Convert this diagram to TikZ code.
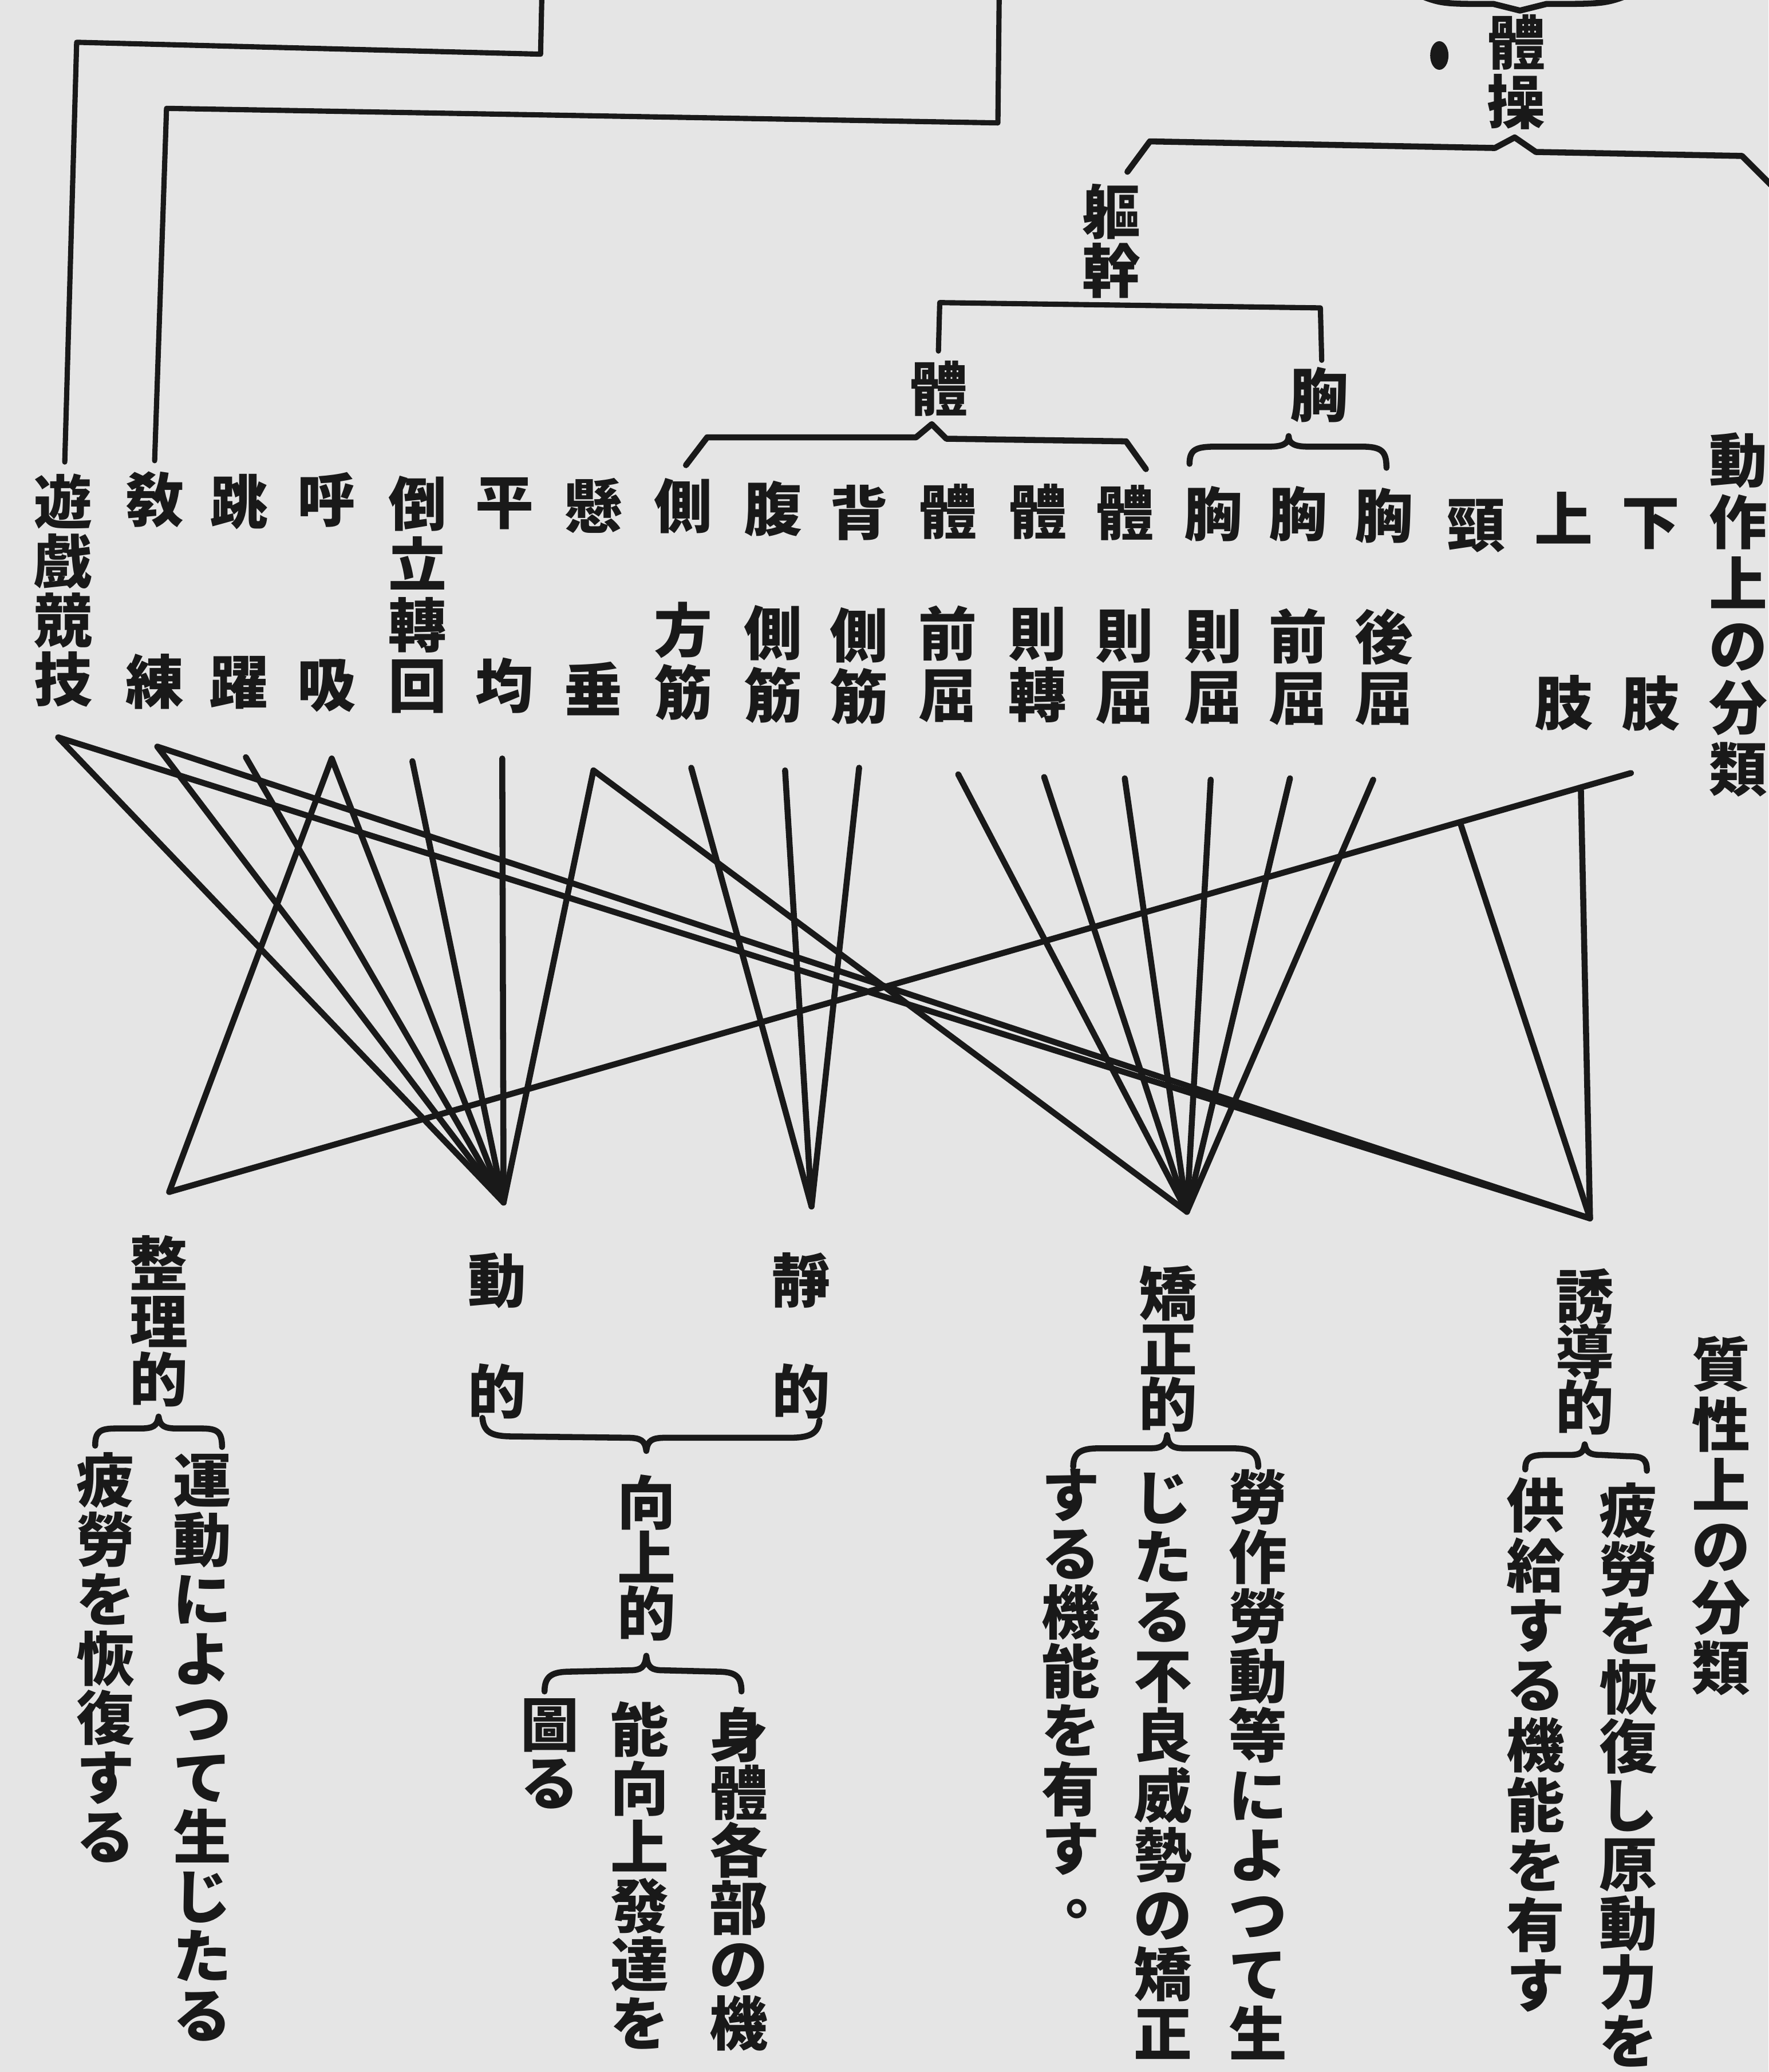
\documentclass[tikz,border=0pt]{standalone}
\usepackage{fontspec}
\newfontfamily\cjk{Noto Sans CJK JP}
\usetikzlibrary{calc}
\definecolor{paper}{gray}{0.9}
\definecolor{ink}{gray}{0.10}
\tikzset{
  ch/.style={font={\fontsize{29pt}{29pt}\selectfont\cjk\bfseries}, text=ink, inner sep=0pt,
    text height=25.5pt, text depth=3.5pt, anchor=center},
  stop/.style={font={\fontsize{29pt}{29pt}\selectfont\cjk\bfseries}, text=ink, inner sep=0pt,
    text height=7pt, text depth=0pt, anchor=base west},
  conn/.style={draw=ink, line width=3pt, line cap=round, line join=round},
  tree/.style={draw=ink, line width=2.6pt, line cap=round, line join=round},
  brace/.style={draw=ink, line width=3pt, line cap=round, line join=round},
}
\newcommand\vcol[5]{\foreach \ch [count=\k] in {#5}{\node[ch] (#1-\k) at (#2,{#3+(\k-1)*#4}) {\ch};}}
\begin{document}
\begin{tikzpicture}[x=0.0231cm, y=-0.0231cm]
\fill[paper] (0,0) rectangle (1338,1568);
\useasboundingbox (0,0) rectangle (1338,1568);

% ---------- top labels ----------
\vcol{taiso}{1147}{32}{45}{體,操}
\vcol{kukan}{841}{160}{45}{軀,幹}
\node[ch] (tai) at (710,294) {體};
\node[ch] (mune) at (998,299) {胸};
\fill[ink] (1089,42) ellipse [x radius=0.16cm, y radius=0.25cm];

% ---------- columns (動作上の分類) ----------
\vcol{c1}{48}{380}{44.7}{遊,戲,競,技}
\vcol{c2}{117}{378}{46}{敎,,,練}
\vcol{c3}{181}{380}{45.3}{跳,,,躍}
\vcol{c4}{247}{378}{46.7}{呼,,,吸}
\vcol{c5}{316}{381}{46}{倒,立,轉,回}
\vcol{c6}{382}{380}{46.3}{平,,,均}
\vcol{c7}{449}{383}{46.3}{懸,,,垂}
\vcol{c8}{517}{383}{47}{側,,方,筋}
\vcol{c9}{585}{385}{47}{腹,,側,筋}
\vcol{c10}{650}{388}{46.3}{背,,側,筋}
\vcol{c11}{717}{387}{46.3}{體,,前,屈}
\vcol{c12}{785}{387}{46.3}{體,,則,轉}
\vcol{c13}{851}{388}{46.3}{體,,則,屈}
\vcol{c14}{918}{389}{46}{胸,,則,屈}
\vcol{c15}{982}{389}{46.3}{胸,,前,屈}
\vcol{c16}{1047}{390}{46}{胸,,後,屈}
\vcol{c17}{1117}{397}{46}{頸}
\vcol{c18}{1183}{393}{46.3}{上,,,肢}
\vcol{c19}{1249}{395}{45.7}{下,,,肢}
\vcol{c20}{1315}{348}{46.8}{動,作,上,の,分,類}

% ---------- bottom labels ----------
\vcol{seiri}{120}{956}{44}{整,理,的}
\vcol{dA}{153}{1120}{45}{運,動,に,よ,つ,て,生,じ,た,る}
\vcol{dB}{80}{1120}{45}{疲,勞,を,恢,復,す,る}
\vcol{dou}{376}{969}{84}{動,的}
\vcol{sei}{606}{969}{84}{靜,的}
\vcol{kojo}{489}{1137}{42}{向,上,的}
\vcol{dC}{559}{1313}{43.6}{身,體,各,部,の,機}
\vcol{dD}{484}{1309}{44.4}{能,向,上,發,達,を}
\vcol{dE}{416}{1305}{44}{圖,る}
\vcol{kyosei}{884}{979}{42}{矯,正,的}
\vcol{dF}{952}{1133}{45.1}{勞,作,勞,動,等,に,よ,つ,て,生}
\vcol{dG}{880}{1133}{45.1}{じ,た,る,不,良,威,勢,の,矯,正}
\vcol{dH}{810}{1131}{44.6}{す,る,機,能,を,有,す}
\node[stop] (dH-8) at (806,1448) {。};
\vcol{yudo}{1199}{981}{42}{誘,導,的}
\vcol{dI}{1232}{1143}{44.6}{疲,勞,を,恢,復,し,原,動,力,を}
\vcol{dJ}{1162}{1139}{45.4}{供,給,す,る,機,能,を,有,す}
\vcol{shitsu}{1302}{1032}{46}{質,性,上,の,分,類}

% ---------- tree lines at top ----------
\draw[tree] (410,-5) -- (409,41) -- (58,32) -- ($(c1-1.north)+(1,-8)$);
\draw[tree] (756,-5) -- (755,93) -- (126,82) -- ($(c2-1.north)+(0,-7)$);
\draw[brace] (1068,-6) .. controls (1090,3) .. (1130,3) -- (1150,8) -- (1170,3) .. controls (1215,3) .. (1238,-6);
\draw[brace] (853,130) -- (870,107) -- (1131,112) -- (1146,104) -- (1162,115) -- (1318,118) -- (1345,145);
\draw[tree] ($(tai.north)+(0,-6)$) -- (711,229) -- (999,233) -- ($(mune.north)+(2,-4)$);
\draw[brace] (519,352) -- (535,331) -- (693,331) -- (705,321) -- (716,332) -- (852,334) -- (867,355);
\draw[brace] (900,351) .. controls (900,340) and (905,338) .. (920,338) -- (960,338)
  .. controls (970,338) and (975,336) .. (975,330) .. controls (975,336) and (980,338) .. (990,338)
  -- (1030,338) .. controls (1045,338) and (1049,341) .. (1049,354);

% ---------- hubs and end points ----------
\coordinate (P1) at (44,558);
\coordinate (P2) at (119,565);
\coordinate (P3) at (186,573);
\coordinate (P4) at (251,574);
\coordinate (P5) at (312,576);
\coordinate (P6) at (380,574);
\coordinate (P7) at (449,583);
\coordinate (P8) at (523,581);
\coordinate (P9) at (594,583);
\coordinate (P10) at (650,581);
\coordinate (P11) at (725,586);
\coordinate (P12) at (790,588);
\coordinate (P13) at (851,589);
\coordinate (P14) at (916,590);
\coordinate (P15) at (976,589);
\coordinate (P16) at (1039,590);
\coordinate (P19) at (1234,585);
\coordinate (hA) at (128,902);
\coordinate (hB) at (381,910);
\coordinate (hC) at (614,913);
\coordinate (hD) at (898,917);
\coordinate (hE) at (1203,922);
\coordinate (P17) at ($(hA)!0.883!(P19)$);
\coordinate (P18) at ($(hA)!0.9657!(P19)$);

\draw[conn] (hB) -- (P1) -- (hE);
\draw[conn] (hB) -- (P2) -- (hE);
\draw[conn] (P3) -- (hB);
\draw[conn] (hA) -- (P4) -- (hB);
\draw[conn] (P5) -- (hB);
\draw[conn] (P6) -- (hB);
\draw[conn] (hB) -- (P7) -- (hD);
\draw[conn] (P8) -- (hC);
\draw[conn] (P9) -- (hC);
\draw[conn] (P10) -- (hC);
\foreach \p in {P11,P12,P13,P14,P15,P16}{\draw[conn] (\p) -- (hD);}
\draw[conn] (hA) -- (P19);
\draw[conn] (P17) -- (hE);
\draw[conn] (P18) -- (hE);

% ---------- bottom braces ----------
\draw[brace] (72,1094) .. controls (72,1083) and (76,1081) .. (88,1081) -- (106,1081)
  .. controls (116,1081) and (119,1079) .. (120,1072) .. controls (121,1079) and (124,1081) .. (134,1081)
  -- (152,1081) .. controls (164,1081) and (168,1083) .. (168,1095);
\draw[brace] (365,1073) .. controls (366,1084) and (372,1087) .. (388,1087) -- (474,1088)
  .. controls (485,1088) and (488,1090) .. (489,1098) .. controls (490,1090) and (493,1088) .. (504,1088)
  -- (598,1088) .. controls (614,1088) and (619,1084) .. (620,1075);
\draw[brace] (412,1280) .. controls (412,1268) and (418,1265) .. (432,1265) -- (476,1264)
  .. controls (485,1264) and (488,1262) .. (489,1253) .. controls (490,1262) and (493,1264) .. (502,1264)
  -- (542,1265) .. controls (556,1265) and (561,1268) .. (561,1280);
\draw[brace] (812,1110) .. controls (812,1099) and (818,1096) .. (832,1096) -- (870,1096)
  .. controls (879,1096) and (882,1094) .. (883,1086) .. controls (884,1094) and (887,1096) .. (896,1096)
  -- (932,1096) .. controls (946,1096) and (952,1099) .. (952,1110);
\draw[brace] (1154,1112) .. controls (1154,1103) and (1158,1101) .. (1170,1101) -- (1188,1101)
  .. controls (1196,1101) and (1198,1099) .. (1199,1093) .. controls (1200,1099) and (1203,1101) .. (1211,1101)
  -- (1232,1102) .. controls (1243,1102) and (1246,1104) .. (1246,1113);
\end{tikzpicture}
\end{document}
